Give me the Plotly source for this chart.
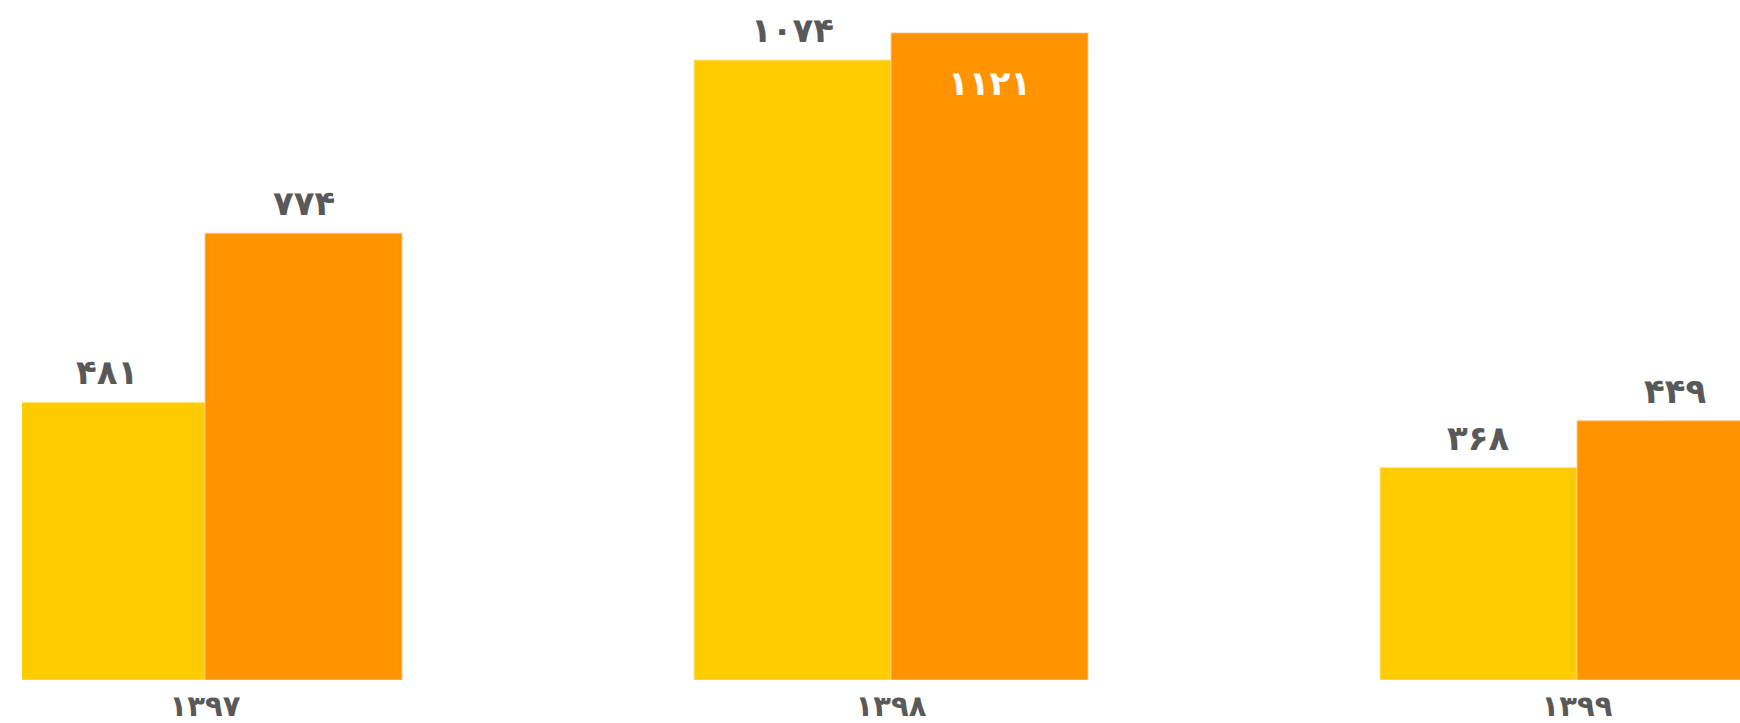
import plotly.graph_objects as go

categories = ["۱۳۹۷", "۱۳۹۸", "۱۳۹۹"]
series_a = [481, 1074, 368]
series_b = [774, 1121, 449]
inside_b = [False, True, False]

YELLOW = "#FFCC00"
ORANGE = "#FF9400"
TEXT = "#595959"
FONT = "DejaVu Sans"

W, H = 1740, 723
ML, MR, MT, MB = 22, 0, 0, 41
XR = [-0.2668, 2.2376]
YR = [0, 1178.0]
BARGAP = 0.4257
LBL = 34
TICK = 29

def fa(n):
    return str(n).translate(str.maketrans("0123456789", "۰۱۲۳۴۵۶۷۸۹"))

fig = go.Figure()
fig.add_bar(x=categories, y=series_a, marker=dict(color=YELLOW, line=dict(color="rgba(255,230,150,0.8)", width=1)), name="a")
fig.add_bar(x=categories, y=series_b, marker=dict(color=ORANGE, line=dict(color="rgba(255,200,140,0.8)", width=1)), name="b")

px_per_cat = (W - ML - MR) / (XR[1] - XR[0])
half = px_per_cat * (1 - BARGAP) / 4

anns = []
for c, v in zip(categories, series_a):
    anns.append(dict(x=c, y=v, xref="x", yref="y", text=fa(v), showarrow=False,
                     xshift=-half, yanchor="bottom", yshift=8,
                     font=dict(family=FONT, size=LBL, color=TEXT, weight="bold")))
for c, v, ins in zip(categories, series_b, inside_b):
    if ins:
        anns.append(dict(x=c, y=v, xref="x", yref="y", text=fa(v), showarrow=False,
                         xshift=half, yanchor="middle", yshift=-50,
                         font=dict(family=FONT, size=LBL, color="white", weight="bold")))
    else:
        anns.append(dict(x=c, y=v, xref="x", yref="y", text=fa(v), showarrow=False,
                         xshift=half, yanchor="bottom", yshift=8,
                         font=dict(family=FONT, size=LBL, color=TEXT, weight="bold")))

fig.update_layout(
    width=W, height=H,
    margin=dict(l=ML, r=MR, t=MT, b=MB),
    barmode="group", bargap=BARGAP, bargroupgap=0,
    plot_bgcolor="white", paper_bgcolor="white",
    showlegend=False,
    annotations=anns,
    font=dict(family=FONT, size=TICK, color=TEXT),
)
fig.update_xaxes(range=XR, showgrid=False, showline=False, zeroline=False,
                 ticks="", ticklabelstandoff=6,
                 tickfont=dict(family=FONT, size=TICK, color=TEXT, weight="bold"))
fig.update_yaxes(range=YR, visible=False)

fig.write_html("out.html",
               config={"displayModeBar": False},
               post_script="document.body.style.margin='0';document.body.style.overflow='hidden';")
